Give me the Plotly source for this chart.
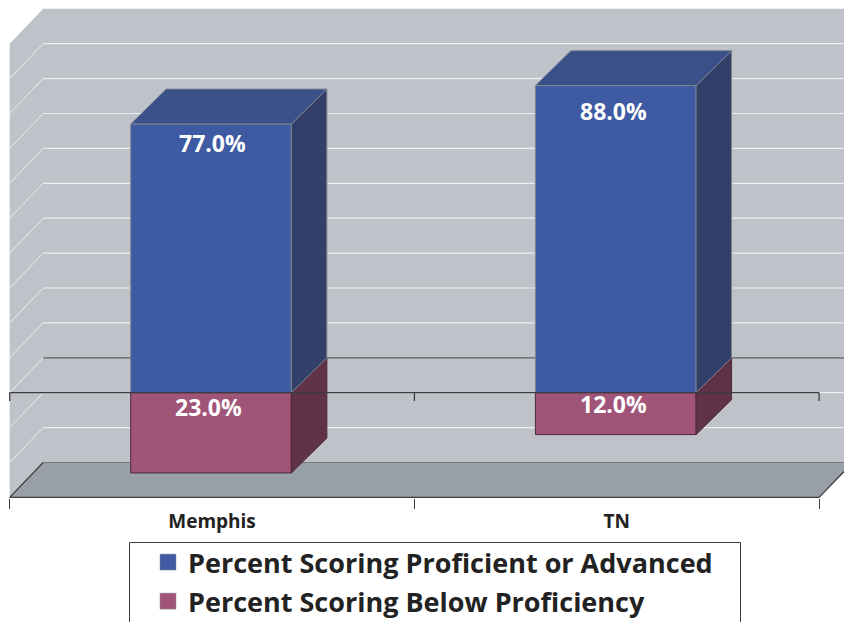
import plotly.graph_objects as go

# Chart data
categories = ["Memphis", "TN"]
proficient = [77.0, 88.0]
below = [23.0, 12.0]
series_names = ["Percent Scoring Proficient or Advanced", "Percent Scoring Below Proficiency"]
grid_values = list(range(-30, 101, 10))

# Canvas and pseudo-3D geometry
W, H, BOTTOM = 844, 622, 124
PX_PER_CAT, LEFT_PX = 404.7, 9.7
PX_PER_UNIT, ZERO_PX = 3.49, 392.7
DEPTH_X, BAR_DEPTH_X, DEPTH_Y = 33.5 / PX_PER_CAT, 35.5 / PX_PER_CAT, 10.0
BAR_W = 0.397
BAR_NUDGE = 0.0025
X0, X1, Y_MIN, Y_MAX = -0.5, 1.5, -30, 100
PLOT_H = H - BOTTOM

FONT = "Open Sans"
BLUE, BLUE_TOP, BLUE_SIDE, BLUE_EDGE = "#3e5aa3", "#3a5089", "#313f69", "#7d8592"
RED, RED_SIDE, RED_EDGE = "#a05478", "#5f3247", "#4c2a3a"
WALL, FLOOR, GRID, AXIS = "#bfc2c9", "#9aa0a7", "#eceef2", "#3c3c40"


def path(points):
    return "M " + " L ".join(f"{x},{y}" for x, y in points) + " Z"


def poly(points, fill, edge):
    return go.Scatter(
        x=[p[0] for p in points] + [points[0][0]],
        y=[p[1] for p in points] + [points[0][1]],
        mode="lines", fill="toself", fillcolor=fill,
        line=dict(color=edge, width=1), hoverinfo="skip", showlegend=False,
    )


shapes = [
    # Back and left walls
    dict(type="path", layer="below", xref="x", yref="y", line_width=0, fillcolor=WALL,
         path=path([(X0, Y_MIN), (X0, Y_MAX), (X0 + DEPTH_X, Y_MAX + DEPTH_Y),
                    (X1 + 2 * DEPTH_X, Y_MAX + DEPTH_Y), (X1 + 2 * DEPTH_X, Y_MIN + DEPTH_Y),
                    (X0 + DEPTH_X, Y_MIN + DEPTH_Y)])),
]
# Gridlines run along the left wall, then across the back wall
for v in grid_values[1:-1]:
    shapes.append(dict(type="line", layer="below", xref="x", yref="y", x0=X0, y0=v,
                       x1=X0 + DEPTH_X, y1=v + DEPTH_Y, line=dict(color=GRID, width=1)))
    back_colour = "#5f6064" if v == 0 else GRID
    shapes.append(dict(type="line", layer="below", xref="x", yref="y", x0=X0 + DEPTH_X, y0=v + DEPTH_Y,
                       x1=X1 + 2 * DEPTH_X, y1=v + DEPTH_Y, line=dict(color=back_colour, width=1.2)))
# Floor
shapes.append(dict(type="path", layer="below", xref="x", yref="y", line_width=0, fillcolor=FLOOR,
                   path=path([(X0, Y_MIN), (X1, Y_MIN), (X1 + DEPTH_X, Y_MIN + DEPTH_Y),
                              (X1 + 2 * DEPTH_X, Y_MIN + DEPTH_Y), (X0 + DEPTH_X, Y_MIN + DEPTH_Y)])))
shapes.append(dict(type="line", layer="below", xref="x", yref="y", x0=X0 + DEPTH_X, y0=Y_MIN + DEPTH_Y,
                   x1=X1 + 2 * DEPTH_X, y1=Y_MIN + DEPTH_Y, line=dict(color="#77797c", width=1.2)))
# Legend frame runs off the bottom of the page
shapes.append(dict(type="rect", xref="paper", yref="paper", x0=129.5 / W, x1=740.5 / W,
                   y0=(PLOT_H - 640) / PLOT_H, y1=(PLOT_H - 542.5) / PLOT_H,
                   fillcolor="white", line=dict(color="#3a3a3a", width=1)))

fig = go.Figure()
xs = list(range(len(categories)))

# Front faces
fig.add_bar(x=xs, y=proficient, marker=dict(color=BLUE, line=dict(color=BLUE_EDGE, width=1)),
            width=BAR_W, offset=-BAR_W / 2 - BAR_NUDGE, showlegend=False, name=series_names[0])
fig.add_bar(x=xs, y=[-v for v in below], marker=dict(color=RED, line=dict(color=RED_EDGE, width=1)),
            width=BAR_W, offset=-BAR_W / 2 - BAR_NUDGE, showlegend=False, name=series_names[1])

# Side and top faces derived from the same values
for x, up, down in zip(xs, proficient, below):
    l, r = x - BAR_W / 2 - BAR_NUDGE, x + BAR_W / 2 - BAR_NUDGE
    fig.add_trace(poly([(r, 0), (r, -down), (r + BAR_DEPTH_X, -down + DEPTH_Y), (r + BAR_DEPTH_X, DEPTH_Y)],
                       RED_SIDE, RED_EDGE))
    fig.add_trace(poly([(r, 0), (r, up), (r + BAR_DEPTH_X, up + DEPTH_Y), (r + BAR_DEPTH_X, DEPTH_Y)],
                       BLUE_SIDE, BLUE_EDGE))
    fig.add_trace(poly([(l, up), (r, up), (r + BAR_DEPTH_X, up + DEPTH_Y), (l + BAR_DEPTH_X, up + DEPTH_Y)],
                       BLUE_TOP, BLUE_EDGE))

# Zero axis and floor-front axis with their ticks
tick_xs = [X0, X0 + 1, X1]
axis_x, axis_y = [X0, X1, None, X0, X1, None, X1, X1 + DEPTH_X, None, X0, X0 + DEPTH_X], \
                 [0, 0, None, Y_MIN, Y_MIN, None, Y_MIN, Y_MIN + DEPTH_Y, None, Y_MIN, Y_MIN + DEPTH_Y]
for t in tick_xs:
    axis_x += [None, t, t]
    axis_y += [None, 0, -2.4]
fig.add_scatter(x=axis_x, y=axis_y, mode="lines", line=dict(color=AXIS, width=1.3),
                hoverinfo="skip", showlegend=False, cliponaxis=False)

# Legend entries
for name, colour in zip(series_names, (BLUE, RED)):
    fig.add_scatter(x=[None], y=[None], mode="markers", name=name, legendgroup=name,
                    marker=dict(symbol="square", size=16, color=colour, line=dict(color="#8a8f98", width=0.5)))

# Value labels: pixel shifts from each bar's outer end (or the zero line for the lower segment)
label_shifts = [(0, -19), (-4, -14), (-3, -25), (-3, -11)]
labels = []
for i, (x, up, down) in enumerate(zip(xs, proficient, below)):
    for j, (anchor, value) in enumerate(((up, up), (0, down))):
        sx, sy = label_shifts[2 * i + j]
        labels.append(dict(x=x, y=anchor, text=f"{value:.1f}%", showarrow=False, xshift=sx, yshift=sy,
                           font=dict(family=FONT, size=23, color="white", weight="bold")))

fig.update_layout(
    width=W, height=H, margin=dict(l=0, r=0, t=0, b=BOTTOM, autoexpand=False),
    paper_bgcolor="white", plot_bgcolor="white",
    barmode="relative", shapes=shapes, annotations=labels,
    xaxis=dict(
        range=[X0 - LEFT_PX / PX_PER_CAT, X0 + (W - LEFT_PX) / PX_PER_CAT],
        tickmode="array", tickvals=xs, ticktext=categories, ticks="", showgrid=False, zeroline=False, showline=False,
        ticklabelstandoff=10, tickfont=dict(family=FONT, size=19, color="#222222", weight="bold"),
        minor=dict(tickvals=tick_xs, ticks="outside", ticklen=10, tickcolor=AXIS, tickwidth=1.3, showgrid=False),
    ),
    yaxis=dict(
        range=[(ZERO_PX - PLOT_H) / PX_PER_UNIT, ZERO_PX / PX_PER_UNIT],
        visible=False, showgrid=False, zeroline=False,
    ),
    legend=dict(
        x=148 / W, xanchor="left", y=(PLOT_H - 538) / PLOT_H, yanchor="top",
        bgcolor="rgba(0,0,0,0)", borderwidth=0, tracegroupgap=1, itemwidth=30,
        font=dict(family=FONT, size=27, color="#222222", weight="bold"),
    ),
    showlegend=True,
)

fig.write_html("out.html")
